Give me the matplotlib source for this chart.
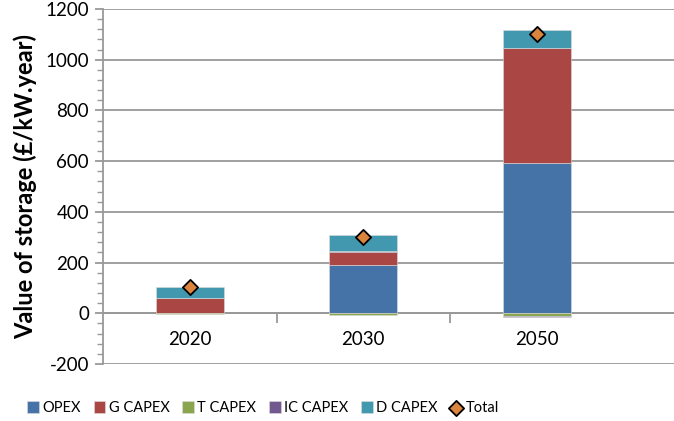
import numpy as np
import matplotlib
matplotlib.use("Agg")
from matplotlib import pyplot as plt
from matplotlib.ticker import MultipleLocator, FixedLocator

years = ["2020", "2030", "2050"]
opex = [0, 190, 594]
g_capex = [60, 53, 454]
t_capex = [-3, -8, -11]
ic_capex = [0, 2, -5]
d_capex = [45, 64, 69]
total = [102, 301, 1101]

series = [
    ("OPEX", opex, "#4572A7"),
    ("G CAPEX", g_capex, "#AA4643"),
    ("T CAPEX", t_capex, "#89A54E"),
    ("IC CAPEX", ic_capex, "#71588F"),
    ("D CAPEX", d_capex, "#4198AF"),
]

plt.rcParams['font.family'] = ['Lato', 'DejaVu Sans']
plt.rcParams['axes.unicode_minus'] = False

fig = plt.figure(figsize=(6.74, 4.21), dpi=100)
ax = fig.add_axes([103 / 674, 1 - 364 / 421, 1 - 103 / 674, (364 - 9) / 421])

x = np.arange(len(years))
pos_base = np.zeros(len(years))
neg_base = np.zeros(len(years))
handles = []
for name, vals, color in series:
    vals = np.array(vals, dtype=float)
    bottom = np.where(vals >= 0, pos_base, neg_base)
    b = ax.bar(x, vals, 0.39, bottom=bottom, color=color, edgecolor="#dddddd",
               linewidth=0.4, label=name, zorder=3)
    handles.append(b)
    pos_base = pos_base + np.where(vals >= 0, vals, 0)
    neg_base = neg_base + np.where(vals < 0, vals, 0)

tot = ax.scatter(x, total, marker="D", s=60, color="#DB843D", edgecolor="black",
                 linewidth=1.3, zorder=5, label="Total")
handles.append(tot)

ax.set_ylim(-200, 1200)
ax.set_xlim(-0.5, 2.79)
ax.yaxis.set_major_locator(MultipleLocator(200))
ax.yaxis.set_minor_locator(MultipleLocator(40))
ax.grid(axis="y", color="#999999", linewidth=1.3, zorder=0)
ax.set_axisbelow(True)

for s in ["top", "right"]:
    ax.spines[s].set_visible(False)
ax.spines["left"].set_color("#999999")
ax.spines["left"].set_linewidth(1.3)
ax.spines["bottom"].set_position(("data", 0))
ax.spines["bottom"].set_color("#999999")
ax.spines["bottom"].set_linewidth(1.3)

ax.xaxis.set_major_locator(FixedLocator([0.5, 1.5]))
ax.xaxis.set_major_formatter(plt.NullFormatter())
ax.set_xticks(x, minor=True)
ax.set_xticklabels(years, minor=True)
ax.tick_params(axis="x", which="major", length=7, width=1.3, color="#999999")
ax.tick_params(axis="x", which="minor", length=0, pad=13, labelsize=13.5)
ax.tick_params(axis="y", which="major", length=6, width=1.3, color="#999999", labelsize=13.5, pad=4)
ax.tick_params(axis="y", which="minor", length=4, width=1.0, color="#999999")

ax.set_ylabel("Value of storage (£/kW.year)", fontsize=17, fontweight="bold", labelpad=6)

leg = fig.legend(handles=handles, labels=[h.get_label() for h in handles], loc="center",
                 bbox_to_anchor=(263 / 674, 1 - 408 / 421), ncol=6, frameon=False,
                 fontsize=10.5, handlelength=0.8, handleheight=0.8, handletextpad=0.25,
                 columnspacing=0.85)

fig.savefig("out.png", dpi=100)
